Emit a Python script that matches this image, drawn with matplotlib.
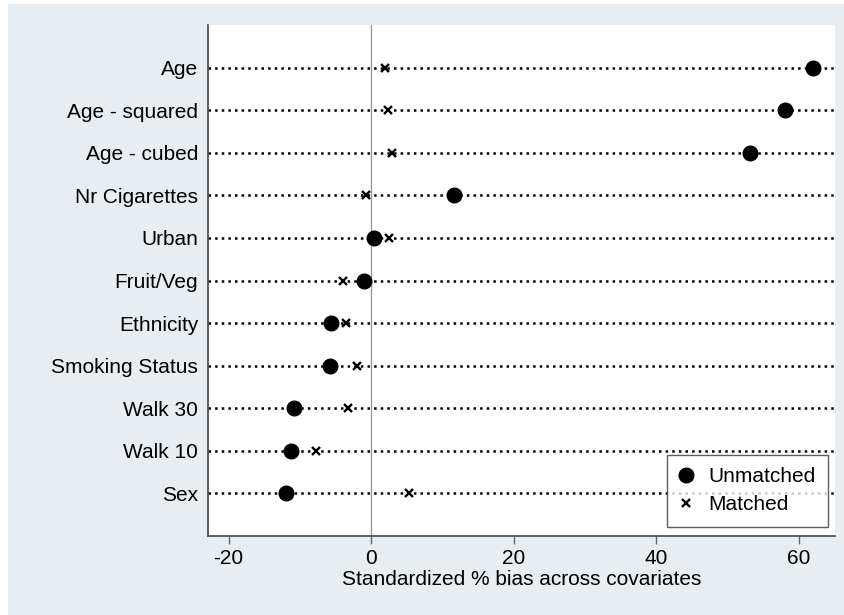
import matplotlib
matplotlib.use("Agg")
import matplotlib.pyplot as plt
from matplotlib.patches import Rectangle

plt.rcParams['font.family'] = ['Liberation Sans', 'DejaVu Sans']

covariates = ["Age", "Age - squared", "Age - cubed", "Nr Cigarettes", "Urban",
              "Fruit/Veg", "Ethnicity", "Smoking Status", "Walk 30", "Walk 10", "Sex"]
unmatched = [61.9, 58.1, 53.1, 11.6, 0.4, -1.0, -5.7, -5.8, -10.8, -11.3, -12.0]
matched = [1.9, 2.4, 2.9, -0.7, 2.5, -3.9, -3.5, -2.0, -3.3, -7.8, 5.3]
xticks = [-20, 0, 20, 40, 60]

W, H = 845, 615
fig = plt.figure(figsize=(W / 100, H / 100), dpi=100, facecolor="white")
bg = Rectangle((8 / W, 0), 1 - 8 / W, 1 - 4 / H, transform=fig.transFigure,
               facecolor="#e8edf1", edgecolor="none", zorder=-10)
fig.add_artist(bg)

left, right, top, bottom = 208, 835, 25, 536
ax = fig.add_axes([left / W, 1 - bottom / H, (right - left) / W, (bottom - top) / H])
ax.set_zorder(1)
ax.set_facecolor("white")

n = len(covariates)
ypos = list(range(n, 0, -1))

for y in ypos:
    ax.axhline(y, color="black", linestyle=":", linewidth=1.8, zorder=1)
ax.axvline(0, color="#999999", linewidth=1.0, zorder=1)

ax.plot(unmatched, ypos, linestyle="none", marker="o", markersize=10.5,
        color="black", label="Unmatched", zorder=3)
ax.plot(matched, ypos, linestyle="none", marker="x", markersize=5.5,
        markeredgewidth=1.7, color="black", label="Matched", zorder=3)

ax.set_xlim(-22.9, 65.05)
ax.set_ylim(0, 12)
ax.set_yticks(ypos)
ax.set_yticklabels(covariates, fontsize=15)
ax.set_xticks(xticks)
ax.set_xticklabels([str(t) for t in xticks], fontsize=15)
ax.tick_params(axis="y", length=0, pad=7)
ax.tick_params(axis="x", length=6, width=1, color="#666666", pad=3)
ax.set_xlabel("Standardized % bias across covariates", fontsize=15, labelpad=2)

for s in ["top", "right"]:
    ax.spines[s].set_visible(False)
for s in ["left", "bottom"]:
    ax.spines[s].set_color("#444444")
    ax.spines[s].set_linewidth(1.2)

leg = ax.legend(loc="lower right", bbox_to_anchor=(828 / W, 1 - 527 / H),
                bbox_transform=fig.transFigure, fontsize=15, frameon=True,
                fancybox=False, edgecolor="#333333", handlelength=0.7,
                handletextpad=0.7, borderpad=0.6, labelspacing=0.45,
                borderaxespad=0)
leg.get_frame().set_linewidth(1.0)

fig.savefig("out.png", dpi=100, facecolor=fig.get_facecolor())
